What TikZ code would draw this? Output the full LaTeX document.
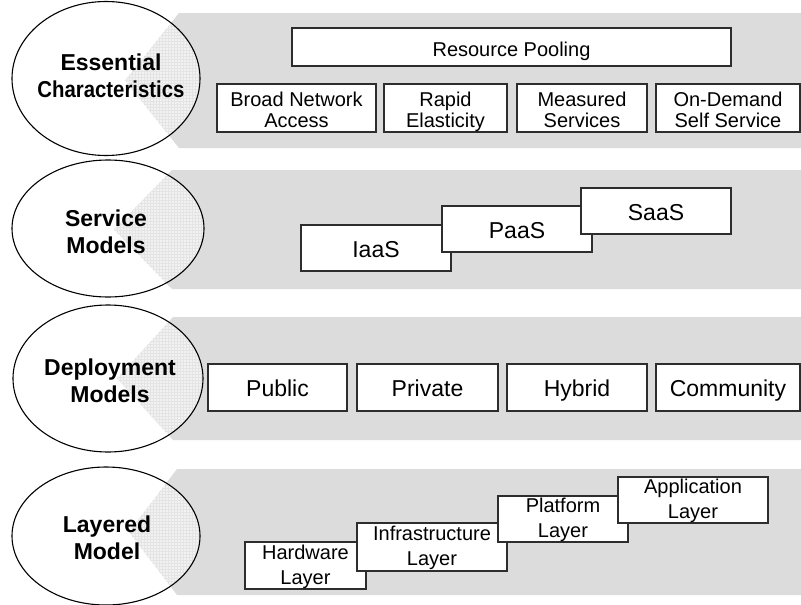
\documentclass[tikz,border=0pt]{standalone}
\usepackage{fontspec}
\setmainfont{Liberation Sans}
\usetikzlibrary{patterns}
\definecolor{bandgray}{RGB}{220,220,220}
\definecolor{veilgray}{RGB}{242,242,242}
\definecolor{gridgray}{RGB}{228,228,228}
\definecolor{edgegray}{RGB}{45,45,45}
% two centred lines whose baseline is that of the first line
\newcommand{\twolines}[2]{\begin{tabular}[t]{@{}c@{}}#1\\#2\end{tabular}}
\begin{document}
\begin{tikzpicture}[x=1pt,y=-1pt,
  band/.style={fill=bandgray,draw=none},
  hatch/.style={fill=veilgray,postaction={pattern=grid,pattern color=gridgray}},
  oval/.style={draw=black,line width=1.1pt},
  title/.style={anchor=base,inner sep=0pt,
    font=\fontsize{23}{27}\selectfont\bfseries},
  box/.style={draw=edgegray,fill=white,line width=1.1pt,inner sep=0pt},
  % text height/depth place the first baseline at centre + (h-d)/2
  smallbox/.style={box,font=\fontsize{20}{21.5}\selectfont,text height=8pt,text depth=12pt},
  poolbox/.style={box,font=\fontsize{20}{21.5}\selectfont,text height=20pt,text depth=2pt},
  bigbox/.style={box,font=\fontsize{23}{26}\selectfont,text height=20pt,text depth=2pt},
  layerbox/.style={box,font=\fontsize{20}{25}\selectfont,text height=6pt,text depth=19pt}]

\clip (0,0) rectangle (801,605);
\useasboundingbox (0,0) rectangle (801,605);
\fill[white] (0,0) rectangle (801,605);

% one row: band with pointed left end, oval over it, band seen through the oval
\newcommand{\bandrow}[8]{%
  % #1 top, #2 bottom, #3 corner x, #4 point x, #5 oval cx, #6 oval cy, #7 rx, #8 ry
  \fill[band] (#3,#1) -- (810,#1) -- (810,#2) -- (#3,#2) -- (#4,{(#1+#2)/2}) -- cycle;
  \fill[white] (#5,#6) ellipse [x radius=#7, y radius=#8];
  \begin{scope}
    \clip (#5,#6) ellipse [x radius=#7, y radius=#8];
    \fill[hatch] (#3,#1) -- (810,#1) -- (810,#2) -- (#3,#2) -- (#4,{(#1+#2)/2}) -- cycle;
  \end{scope}
  \draw[oval] (#5,#6) ellipse [x radius=#7, y radius=#8];
}

\bandrow{13}{148}{179}{125}{106}{78.5}{94}{77}
\bandrow{170}{289}{172}{114}{108}{228.5}{96}{68.5}
\bandrow{317}{440}{173}{117}{108}{378.5}{95}{73.5}
\bandrow{469}{595}{177}{129}{106}{536}{94}{69}

% row titles, placed by the baseline of their first line
\node[title] (ess) at (111,70) {\twolines{Essential}{\scalebox{0.885}[1]{Characteristics}}};
\node[title] (svc) at (106,226) {\twolines{Service}{Models}};
\node[title] (dep) at (110,375) {\twolines{Deployment}{Models}};
\node[title] (lay) at (107,532) {\twolines{Layered}{Model}};

% essential characteristics
\node[poolbox,minimum width=439,minimum height=38] (pool) at (511.5,47) {Resource Pooling};
\node[smallbox,minimum width=159,minimum height=48] (bna) at (296.5,108) {\twolines{Broad Network}{Access}};
\node[smallbox,minimum width=123,minimum height=48] (rapid) at (445.5,108) {\twolines{Rapid}{Elasticity}};
\node[smallbox,minimum width=130,minimum height=48] (meas) at (582,108) {\twolines{Measured}{Services}};
\node[smallbox,minimum width=144,minimum height=48] (ods) at (728,108) {\twolines{On-Demand}{Self Service}};

% service models
\node[bigbox,minimum width=150,minimum height=46] (iaas) at (376,248) {IaaS};
\node[bigbox,minimum width=150,minimum height=46] (paas) at (517,229) {PaaS};
\node[bigbox,minimum width=150,minimum height=46] (saas) at (656,211) {SaaS};

% deployment models
\node[bigbox,minimum width=139,minimum height=47] (pub) at (277.5,387.5) {Public};
\node[bigbox,minimum width=141,minimum height=47] (priv) at (427.5,387.5) {Private};
\node[bigbox,minimum width=140,minimum height=47] (hyb) at (577,387.5) {Hybrid};
\node[bigbox,minimum width=144,minimum height=47] (comm) at (728,387.5) {Community};

% layered model
\node[layerbox,minimum width=121,minimum height=47] (hw) at (305.5,565.5) {\twolines{Hardware}{Layer}};
\node[layerbox,minimum width=150,minimum height=48] (infra) at (432,547) {\twolines{Infrastructure}{Layer}};
\node[layerbox,minimum width=130,minimum height=46] (plat) at (563,519) {\twolines{Platform}{Layer}};
\node[layerbox,minimum width=150,minimum height=46] (app) at (693,500) {\twolines{Application}{Layer}};

\end{tikzpicture}
\end{document}
